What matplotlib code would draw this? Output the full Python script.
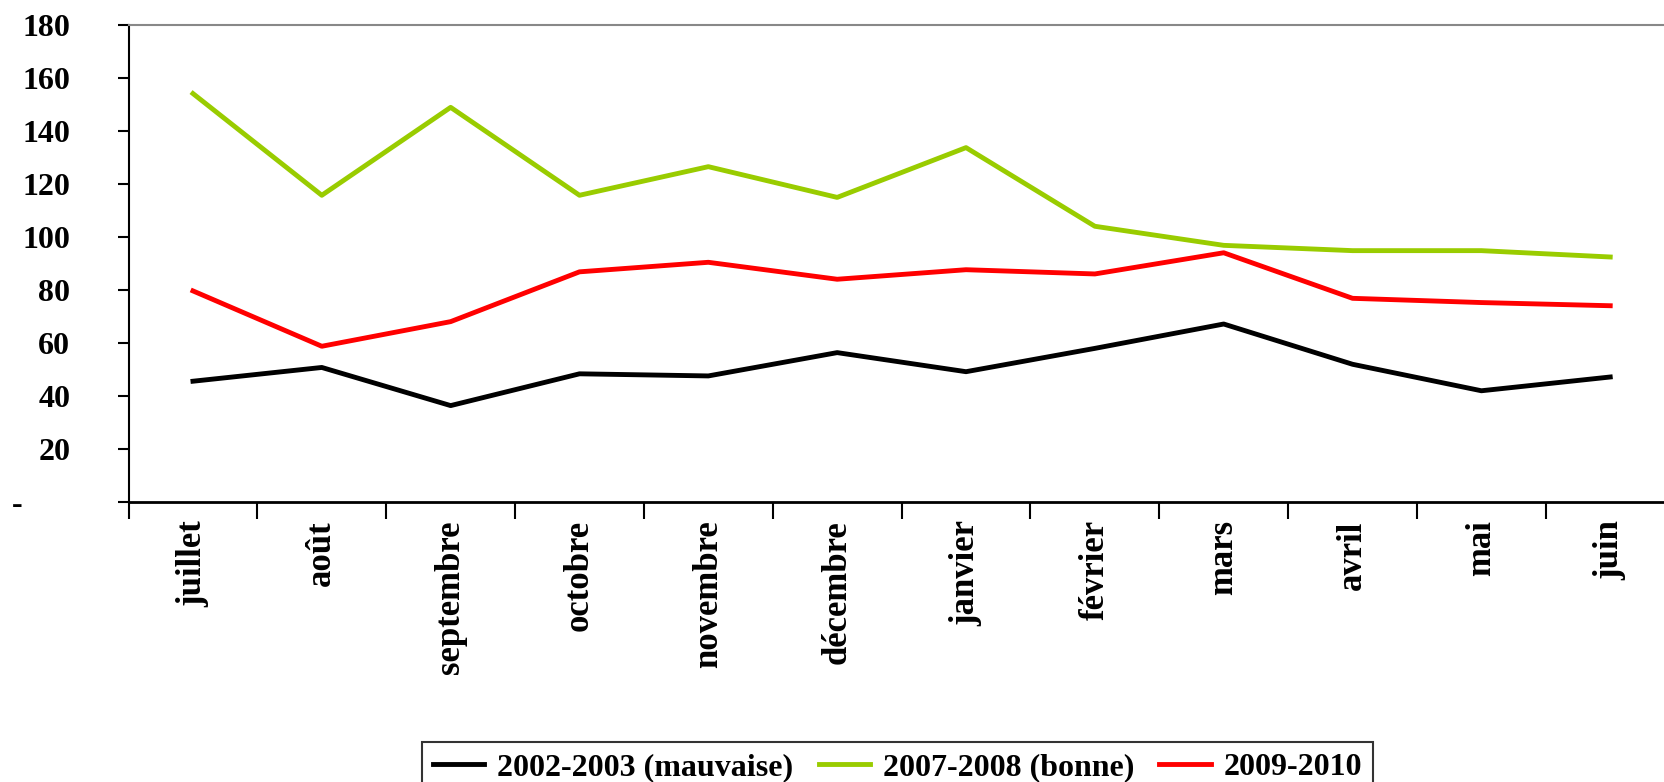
import matplotlib.pyplot as plt

months = ["juillet", "août", "septembre", "octobre", "novembre", "décembre",
          "janvier", "février", "mars", "avril", "mai", "juin"]
s_2002 = [45.7, 50.9, 36.5, 48.5, 47.7, 56.5, 49.3, 58.1, 67.3, 52.1, 42.1, 47.3]
s_2007 = [154.3, 115.9, 149.1, 115.9, 126.7, 115.1, 133.9, 104.2, 97.0, 95.0, 95.0, 92.6]
s_2009 = [79.8, 58.9, 68.2, 87.0, 90.6, 84.2, 87.8, 86.2, 94.2, 77.0, 75.4, 74.2]
y_ticks = [0, 20, 40, 60, 80, 100, 120, 140, 160, 180]
y_labels = ["-      ", "20", "40", "60", "80", "100", "120", "140", "160", "180"]

plt.rcParams["font.family"] = ["Liberation Serif", "DejaVu Serif"]
plt.rcParams["font.weight"] = "bold"

fig = plt.figure(figsize=(16.65, 7.82), dpi=100)
ax = fig.add_axes([0.0772, 0.3577, 0.9286, 0.6097])

x = list(range(len(months)))
ax.plot(x, s_2002, color="black", lw=3.5, label="2002-2003 (mauvaise)")
ax.plot(x, s_2007, color="#99CC00", lw=3.5, label="2007-2008 (bonne)")
ax.plot(x, s_2009, color="#FF0000", lw=3.5, label="2009-2010")

ax.set_xlim(-0.5, 11.5)
ax.set_ylim(0, 180)
ax.set_yticks(y_ticks)
ax.set_yticklabels(y_labels, fontsize=23, fontweight="bold")
ax.set_xticks(x)
ax.set_xticklabels(months, rotation=90, fontsize=25, fontweight="bold")
ax.tick_params(axis="x", length=0, pad=13)
ax.set_xticks([i - 0.5 for i in range(13)], minor=True)
ax.tick_params(axis="x", which="minor", length=12, width=1.5, direction="out")
ax.tick_params(axis="y", length=8, width=1.5, direction="out", pad=34)

ax.spines["right"].set_visible(False)
ax.spines["top"].set_color("#888888")
ax.spines["top"].set_linewidth(1.5)
ax.spines["left"].set_linewidth(1.5)
ax.spines["bottom"].set_linewidth(2)

leg = fig.legend(loc="upper center", bbox_to_anchor=(0.539, 0.072), ncol=3,
                 fontsize=23, frameon=True, fancybox=False, handlelength=1.6,
                 columnspacing=0.8, handletextpad=0.4, borderpad=0.35)
leg.get_frame().set_edgecolor("black")
leg.get_frame().set_linewidth(1.5)
for t in leg.get_texts():
    t.set_fontweight("bold")

plt.savefig("out.png", dpi=100)
